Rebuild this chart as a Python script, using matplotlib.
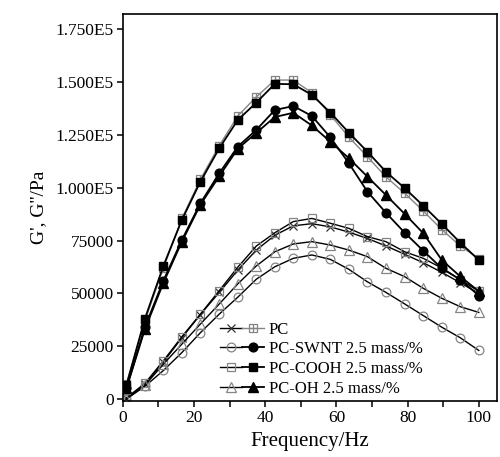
import matplotlib
matplotlib.use("Agg")
import matplotlib.pyplot as plt
from matplotlib.path import Path
from matplotlib.legend_handler import HandlerTuple

# frequency sweep (Hz)
freq = [1, 6.2, 11.4, 16.6, 21.8, 27.1, 32.3, 37.5, 42.7, 47.9,
        53.1, 58.3, 63.5, 68.7, 73.9, 79.2, 84.4, 89.6, 94.8, 100]

# storage modulus G' (Pa)
pc_g1 = [7000, 37000, 62000, 85500, 104000, 120000, 134000, 143000, 151000, 151000,
         145000, 134500, 124000, 114700, 105200, 97400, 89000, 80200, 72500, 66500]
swnt_g1 = [5000, 34000, 56000, 75300, 92700, 106900, 119500, 127400, 136800, 138700,
           134000, 123900, 111600, 98200, 88200, 78700, 70200, 61900, 56500, 49000]
cooh_g1 = [6500, 38000, 63000, 84800, 102900, 118700, 132100, 140300, 149200, 149000,
           144000, 135600, 126100, 117100, 107600, 99800, 91500, 82900, 74000, 65800]
oh_g1 = [5000, 33000, 55000, 74500, 92000, 105500, 118500, 126000, 133500, 135500,
         129500, 121800, 114000, 105300, 96600, 87600, 78500, 65800, 58000, 51000]

# loss modulus G'' (Pa)
pc_g2 = [300, 7000, 17500, 29000, 40000, 50500, 61000, 70500, 77500, 82000,
         83000, 81500, 79000, 76000, 72500, 68500, 64500, 60000, 55000, 50000]
swnt_g2 = [0, 6000, 13500, 22000, 31400, 40200, 48200, 56700, 62600, 66600,
           68200, 66100, 61400, 55500, 50500, 45000, 39500, 34000, 29000, 23000]
cooh_g2 = [500, 7400, 18100, 29500, 40200, 51300, 62400, 72400, 78700, 84000,
           85500, 83200, 80800, 76900, 74500, 69700, 66600, 62000, 56500, 51000]
oh_g2 = [0, 6500, 16500, 26000, 35500, 45000, 54500, 63000, 69700, 73400,
         74500, 72900, 70500, 67400, 61900, 57900, 52400, 47700, 43700, 41000]

labels = ["PC", "PC-SWNT 2.5 mass/%", "PC-COOH 2.5 mass/%", "PC-OH 2.5 mass/%"]

yticks = [0, 25000, 50000, 75000, 100000, 125000, 150000, 175000]
yticklabels = ["0", "25000", "50000", "75000", "1.000E5", "1.250E5", "1.500E5", "1.750E5"]
xticks = [0, 10, 20, 30, 40, 50, 60, 70, 80, 90, 100]
xticklabels = ["0", "", "20", "", "40", "", "60", "", "80", "", "100"]

plt.rcParams['font.family'] = ['Liberation Serif', 'DejaVu Serif']

# square with a plus inside
boxplus = Path([(-1, -1), (1, -1), (1, 1), (-1, 1), (-1, -1), (0, -1), (0, 1), (-1, 0), (1, 0)],
               [Path.MOVETO, Path.LINETO, Path.LINETO, Path.LINETO, Path.CLOSEPOLY,
                Path.MOVETO, Path.LINETO, Path.MOVETO, Path.LINETO])

grey = "#858585"
fig = plt.figure(figsize=(5, 4.57), dpi=100)
ax = fig.add_axes([0.2456, 0.1225, 0.749, 0.847])

# G'' curves (open markers)
h_pc2, = ax.plot(freq, pc_g2, color="k", lw=1.0, marker="x", ms=5.5, mec="#333333", mew=0.9)
h_sw2, = ax.plot(freq, swnt_g2, color="k", lw=1.0, marker="o", ms=6.3, mfc="none", mec=grey, mew=0.9)
h_co2, = ax.plot(freq, cooh_g2, color="k", lw=1.0, marker="s", ms=6.2, mfc="none", mec=grey, mew=0.9)
h_oh2, = ax.plot(freq, oh_g2, color="k", lw=1.0, marker="^", ms=6.8, mfc="none", mec=grey, mew=0.9)

# G' curves
h_pc1, = ax.plot(freq, pc_g1, color=grey, lw=1.0, marker=boxplus, ms=6.2, mfc="none", mec=grey, mew=0.9)
h_sw1, = ax.plot(freq, swnt_g1, color="k", lw=1.3, marker="o", ms=6.3, mfc="k", mec="k")
h_co1, = ax.plot(freq, cooh_g1, color="k", lw=1.3, marker="s", ms=6.2, mfc="k", mec="k")
h_oh1, = ax.plot(freq, oh_g1, color="k", lw=1.3, marker="^", ms=6.8, mfc="k", mec="k")

ax.set_xlim(0, 105.2)
ax.set_ylim(-950, 182300)
ax.set_xticks(xticks)
ax.set_xticklabels(xticklabels)
ax.set_yticks(yticks)
ax.set_yticklabels(yticklabels)
ax.tick_params(direction="out", length=4.5, width=1.1, labelsize=12.5, pad=2)
for s in ax.spines.values():
    s.set_linewidth(1.2)

ax.set_xlabel("Frequency/Hz", fontsize=15, labelpad=4)
ax.set_ylabel("G', G''/Pa", fontsize=14, labelpad=6)

ax.legend([(h_pc2, h_pc1), (h_sw2, h_sw1), (h_co2, h_co1), (h_oh2, h_oh1)], labels,
          handler_map={tuple: HandlerTuple(ndivide=None, pad=0.0)},
          loc="upper left", bbox_to_anchor=(0.26, 0.205), frameon=False,
          fontsize=12, handlelength=2.6, handletextpad=0.3, labelspacing=0.22,
          borderpad=0, borderaxespad=0)

fig.savefig("out.png", dpi=100)
